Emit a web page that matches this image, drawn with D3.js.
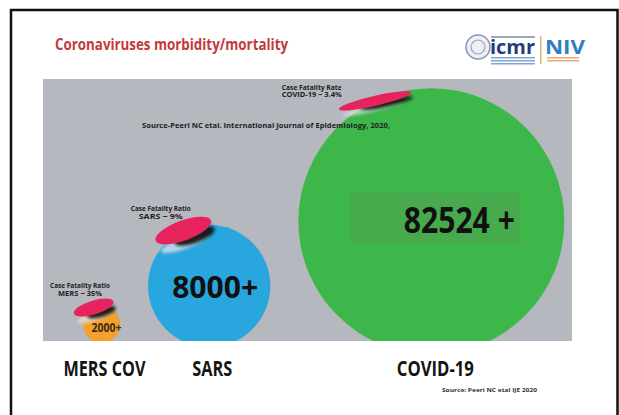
<!DOCTYPE html>
<html><head><meta charset="utf-8">
<script src="https://cdn.jsdelivr.net/npm/d3@7"></script>
<style>
html,body{margin:0;padding:0;background:#fff;}
svg{display:block;}
text{font-family:"Open Sans","Liberation Sans",sans-serif;}
</style></head>
<body>
<script>
// ---- data ----
const title = "Coronaviruses morbidity/mortality";
const categories = ["MERS COV", "SARS", "COVID-19"];
const cases = [2000, 8000, 82524];
const caseLabels = ["2000+", "8000+", "82524 +"];
const cfrTitles = ["Case Fatality Ratio", "Case Fatality Ratio", "Case Fatality Rate"];
const cfrLabels = ["MERS ~ 35%", "SARS ~ 9%", "COVID-19 ~ 3.4%"];
const sourceMain = "Source-Peeri NC etal. International Journal of Epidemiology, 2020,";
const sourceSmall = "Source: Peeri NC etal IJE 2020";

// ---- layout ----
const W = 619, H = 415;
const panel = {x: 43, y: 79, w: 529, h: 262};
const baseline = panel.y + panel.h;
const colors = ["#f3a12c", "#29a6de", "#3db74a"];
const wedgeStyle = [{ry: 7, tilt: -17}, {ry: 10, tilt: -20}, {ry: 5, tilt: -13}];

const svg = d3.select("body").append("svg").attr("width", W).attr("height", H);
const defs = svg.append("defs");
defs.append("clipPath").attr("id", "pclip").append("rect")
  .attr("x", panel.x).attr("y", panel.y).attr("width", panel.w).attr("height", panel.h);
const blur = defs.append("filter").attr("id", "blur").attr("x", "-50%").attr("y", "-50%").attr("width", "200%").attr("height", "200%");
blur.append("feGaussianBlur").attr("stdDeviation", 1.8);

// frame
svg.append("rect").attr("x", 11).attr("y", 10).attr("width", 606.5).attr("height", 420)
  .attr("fill", "#fff").attr("stroke", "#111").attr("stroke-width", 2.5);

// title
svg.append("text").attr("x", 55).attr("y", 50).text(title)
  .attr("font-size", 16).attr("font-weight", 700).attr("fill", "#c23a3c")
  .attr("textLength", 233).attr("lengthAdjust", "spacingAndGlyphs");

// logo
const logo = svg.append("g");
logo.append("circle").attr("cx", 478).attr("cy", 47).attr("r", 12).attr("fill", "#eef0f6").attr("stroke", "#8a93b5").attr("stroke-width", 1.5);
logo.append("circle").attr("cx", 478).attr("cy", 47).attr("r", 7).attr("fill", "none").attr("stroke", "#9aa2c0").attr("stroke-width", 1.2);
logo.append("rect").attr("x", 491).attr("y", 36).attr("width", 44).attr("height", 2).attr("fill", "#9aa4c4");
logo.append("text").attr("x", 490).attr("y", 54).text("icmr").attr("font-size", 19).attr("font-weight", 700)
  .attr("fill", "#243d7a").attr("textLength", 45).attr("lengthAdjust", "spacingAndGlyphs");
[57, 60, 63].forEach(y => logo.append("rect").attr("x", 491).attr("y", y).attr("width", 44).attr("height", 1.5).attr("fill", "#7fa6d6"));
logo.append("rect").attr("x", 540).attr("y", 36).attr("width", 1.5).attr("height", 28).attr("fill", "#e0b87a");
logo.append("text").attr("x", 545).attr("y", 54).text("NIV").attr("font-size", 20).attr("font-weight", 700)
  .attr("fill", "#2f7fc7").attr("textLength", 40).attr("lengthAdjust", "spacingAndGlyphs");
[57, 60].forEach(y => logo.append("rect").attr("x", 547).attr("y", y).attr("width", 32).attr("height", 1.5).attr("fill", "#f0a878"));

// panel
svg.append("rect").attr("x", panel.x).attr("y", panel.y).attr("width", panel.w).attr("height", panel.h).attr("fill", "#b5b8be");

// scales
const rScale = d3.scaleLog().domain(d3.extent(cases)).range([18.5, 133]);
const gap = 28;
let left = 83;
const nodes = categories.map((c, i) => {
  const r = rScale(cases[i]);
  const cx = left + r;
  left = cx + r + gap;
  const cy = baseline - 0.9 * r;
  const a = -115 * Math.PI / 180;
  const ex = cx + r * Math.cos(a), ey = cy + r * Math.sin(a);
  const rx = 8.6 * Math.pow(r, 0.3);
  return {c, i, r, cx, cy, ex, ey, rx, ry: wedgeStyle[i].ry, tilt: wedgeStyle[i].tilt};
});

const g = svg.append("g").attr("clip-path", "url(#pclip)");
g.selectAll("circle.b").data(nodes).join("circle").attr("class", "b")
  .attr("cx", d => d.cx).attr("cy", d => d.cy).attr("r", d => d.r).attr("fill", d => colors[d.i]);

// darker box behind big number
const big = nodes[2];
g.append("rect").attr("x", big.cx - 81).attr("y", big.cy - 29).attr("width", 170).attr("height", 51).attr("fill", "#47ab4d");

// source main text
svg.append("text").attr("x", 142).attr("y", 128).text(sourceMain)
  .attr("font-size", 7.5).attr("font-weight", 700).attr("fill", "#1d1d22")
  .attr("textLength", 248).attr("lengthAdjust", "spacingAndGlyphs");

// wedges (fatality)
const wg = svg.selectAll("g.w").data(nodes).join("g").attr("class", "w")
  .attr("transform", d => `translate(${d.ex},${d.ey}) rotate(${d.tilt})`);
wg.append("ellipse").attr("cx", d => -d.rx * 0.1).attr("cy", d => d.ry + 2).attr("rx", d => d.rx * 0.85).attr("ry", d => d.ry * 0.6)
  .attr("fill", "#e2e3e6").attr("opacity", 0.75).attr("filter", "url(#blur)");
wg.append("ellipse").attr("cx", d => d.rx * 0.3).attr("cy", d => d.ry * 0.8 + 1).attr("rx", d => d.rx * 0.72).attr("ry", d => d.ry * 0.7)
  .attr("fill", "#111").attr("opacity", 0.9).attr("filter", "url(#blur)");
wg.append("ellipse").attr("cx", 0).attr("cy", 0).attr("rx", d => d.rx).attr("ry", d => d.ry).attr("fill", "#e6235d");

// wedge labels
const labelPos = nodes.map(d => {
  const clamped = d.ey - d.ry - 20 < panel.y;
  return clamped ? {x: d.ex - 1.7 * d.rx, y: panel.y + 18} : {x: d.ex - d.rx + 7, y: d.ey - 12};
});
nodes.forEach((d, i) => {
  const p = labelPos[i];
  svg.append("text").attr("x", p.x).attr("y", p.y - 7.5).attr("text-anchor", "middle").text(cfrTitles[i])
    .attr("font-size", 6.2).attr("font-weight", 700).attr("fill", "#222")
    .attr("textLength", 60).attr("lengthAdjust", "spacingAndGlyphs");
  svg.append("text").attr("x", p.x).attr("y", p.y).attr("text-anchor", "middle").text(cfrLabels[i])
    .attr("font-size", 6.2).attr("font-weight", 700).attr("fill", "#222")
    .attr("textLength", i === 2 ? 60 : 44).attr("lengthAdjust", "spacingAndGlyphs");
});

// case numbers
const numStyle = [
  {size: 12.5, len: 30, dx: 5, dy: 8, fill: "#3a2a12"},
  {size: 31, len: 86, dx: 6, dy: 12, fill: "#111"},
  {size: 36, len: 111, dx: 28, dy: 12, fill: "#111"}
];
nodes.forEach((d, i) => {
  const s = numStyle[i];
  svg.append("text").attr("x", d.cx + s.dx).attr("y", d.cy + s.dy).attr("text-anchor", "middle").text(caseLabels[i])
    .attr("font-size", s.size).attr("font-weight", 700).attr("fill", s.fill)
    .attr("textLength", s.len).attr("lengthAdjust", "spacingAndGlyphs");
});

// category labels
const catLen = [82, 40, 77];
nodes.forEach((d, i) => {
  svg.append("text").attr("x", d.cx + (i === 2 ? 4 : 3)).attr("y", 376).attr("text-anchor", "middle").text(d.c)
    .attr("font-size", 21).attr("font-weight", 700).attr("fill", "#151515")
    .attr("textLength", catLen[i]).attr("lengthAdjust", "spacingAndGlyphs");
});

// small source
svg.append("text").attr("x", 442).attr("y", 392).text(sourceSmall)
  .attr("font-size", 5.5).attr("font-weight", 700).attr("fill", "#333")
  .attr("textLength", 95).attr("lengthAdjust", "spacingAndGlyphs");
</script>
</body></html>
